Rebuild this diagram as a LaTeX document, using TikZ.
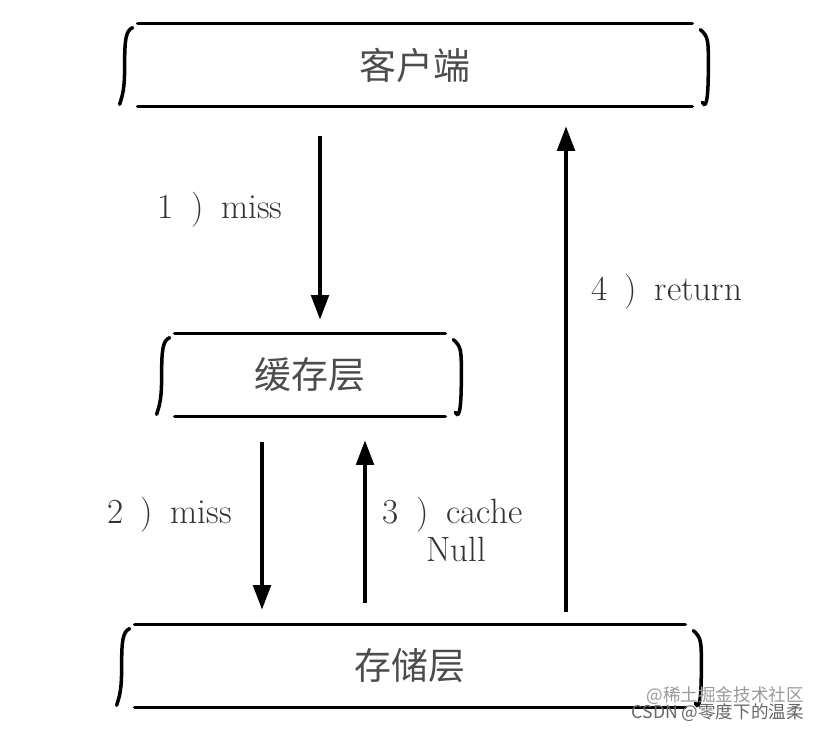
\documentclass[tikz,border=0pt]{standalone}
\usepackage{fontspec}
\newfontfamily\cjk{Noto Sans CJK SC}
\usetikzlibrary{arrows.meta, calc, positioning}

\tikzset{
    layer/.style={minimum width=#1, minimum height=1.64cm, inner sep=0pt,
        font=\cjk\fontsize{21}{23}\selectfont, text=black!70},
    edge/.style={line width=2pt, line cap=round},
    side/.style={line width=2pt, line cap=round},
    flow/.style={line width=2pt, -{Triangle[length=14pt,width=10pt]}},
    lbl/.style={font=\fontsize{20}{22}\selectfont, text=black!80, align=center},
    wmark/.style={font=\cjk\fontsize{10}{11}\selectfont, anchor=east},
}

% 上下两条粗线加左右两个弯边
\newcommand{\layerbox}[1]{%
    \draw[edge] (#1.north west) -- (#1.north east);
    \draw[edge] (#1.south west) -- (#1.south east);
    \draw[side] ($(#1.north west)+(-0.1,-0.08)$) .. controls +(-0.14,-0.06) and +(0,0.5) .. ($(#1.west)+(-0.26,0)$)
        .. controls +(0,-0.5) and +(0.06,0.2) .. ($(#1.south west)+(-0.36,0.04)$);
    \draw[side] ($(#1.north east)+(0.16,-0.12)$) .. controls +(0.16,-0.14) and +(0,0.5) .. ($(#1.east)+(0.32,0)$)
        .. controls +(0,-0.5) and +(0.1,-0.18) .. ($(#1.south east)+(0.2,0.08)$);
}

\begin{document}
\begin{tikzpicture}
    \useasboundingbox (0,0) rectangle (16.5,14.64);

    % 三层
    \node[layer=11.08cm] (client) at (8.30,13.34) {客户端};
    \node[layer=5.40cm] (cache) at (6.20,7.14) {缓存层};
    \node[layer=11.0cm] (storage) at (8.20,1.32) {存储层};
    \layerbox{client}
    \layerbox{cache}
    \layerbox{storage}

    % 箭头的x位置
    \coordinate (a1) at ([xshift=0.2cm]cache.north);
    \coordinate (a2) at ([xshift=-0.96cm]cache.south);
    \coordinate (a3) at ([xshift=1.1cm]cache.south);
    \coordinate (a4) at ([xshift=3.12cm]storage.north);

    % 1) miss
    \draw[flow] ([yshift=-0.6cm]client.south -| a1) -- ([yshift=0.28cm]a1)
        node[lbl, pos=0.4, left=0.6cm] (l1) {1\enspace)\enspace miss};

    % 2) miss
    \draw[flow] ([yshift=-0.52cm]a2) -- ([yshift=0.3cm]storage.north -| a2)
        node[lbl, pos=0.43, left=0.45cm] (l2) {2\enspace)\enspace miss};

    % 3) cache Null
    \draw[flow] ([yshift=0.44cm]storage.north -| a3) -- ([yshift=-0.48cm]a3)
        node[lbl, pos=0.45, right=0.2cm] (l3) {3\enspace)\enspace cache\\\hspace*{0.2em}Null};

    % 4) return
    \draw[flow] ([yshift=0.26cm]a4) -- ([yshift=-0.4cm]client.south -| a4)
        node[lbl, pos=0.66, right=0.35cm] (l4) {4\enspace)\enspace return};

    % 水印
    \node[wmark, text=black!40] (wm1) at (16.2,0.72) {@稀土掘金技术社区};
    \node[wmark, text=black!60] (wm2) at (16.2,0.38) {CSDN @零度下的温柔};
\end{tikzpicture}
\end{document}
